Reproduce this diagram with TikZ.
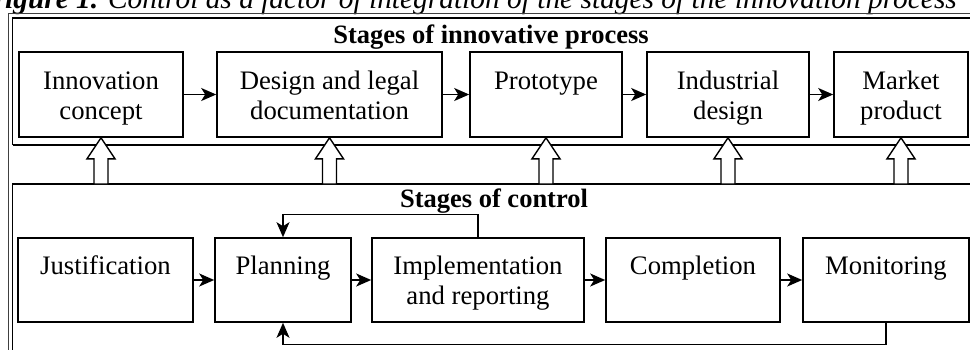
\documentclass[tikz,border=0pt]{standalone}
\usepackage{fontspec}
\setmainfont{Liberation Serif}
\usetikzlibrary{arrows.meta}
\newcommand\mytop{\rule{0pt}{28.6pt}}
\newcommand\mybot{\rule[-9pt]{0pt}{9pt}}
\begin{document}
\begin{tikzpicture}[x=1pt,y=-1pt,
  stagebox/.style={draw,line width=1.6pt,inner sep=0pt,align=center,font=\fontsize{26.7}{30}\selectfont},
  outerframe/.style={draw,line width=1pt,black!75},
  frame/.style={draw,line width=1.4pt},
  flow/.style={line width=1.6pt,-{Stealth[length=15pt,width=13pt,inset=4pt]}},
  fb/.style={line width=1.3pt,-{Stealth[length=15pt,width=13pt,inset=4pt]}},
  blockarr/.style={draw,fill=white,line width=1.4pt,line join=miter},
  heading/.style={font=\fontsize{26.5}{30}\selectfont\bfseries,anchor=base}
]
\useasboundingbox (0,0) rectangle (970,349);
\clip (0,0) rectangle (970,349);

% title (cut at the top, as in the reference)
\node[anchor=base east,inner sep=0pt,font=\fontsize{29.4}{32}\selectfont\itshape] (title) at (957,8)
  {\textbf{Figure 1.} Control as a factor of integration of the stages of the innovation process};

% frames
\draw[outerframe] (8,400) -- (8,13.3) -- (990,13.3);
\draw[frame] (12.7,145) -- (12.7,18) -- (990,18);
\draw[frame] (12.7,145) -- (990,145);
\draw[frame] (990,184) -- (12.7,184) -- (12.7,400);

% headings
\node[heading] (h1) at (491,43) {Stages of innovative process};
\node[heading] (h2) at (494,207) {Stages of control};

% stages of innovative process
\node[stagebox,minimum width=164pt,minimum height=85pt] (ic) at (101,94.5) {\mytop Innovation\\concept\mybot};
\node[stagebox,minimum width=225pt,minimum height=85pt] (dl) at (329.5,94.5) {\mytop Design and legal\\documentation\mybot};
\node[stagebox,minimum width=152pt,minimum height=85pt] (pr) at (546,94.5) {\mytop Prototype\\\mybot};
\node[stagebox,minimum width=162pt,minimum height=85pt] (id) at (728,94.5) {\mytop Industrial\\design\mybot};
\node[stagebox,minimum width=134pt,minimum height=85pt] (mp) at (901,94.5) {\mytop Market\\product\mybot};

\draw[flow] (ic) -- (dl);
\draw[flow] (dl) -- (pr);
\draw[flow] (pr) -- (id);
\draw[flow] (id) -- (mp);

% stages of control
\node[stagebox,minimum width=175pt,minimum height=84pt] (ju) at (105.5,280) {\mytop Justification\\\mybot};
\node[stagebox,minimum width=136pt,minimum height=84pt] (pl) at (283,280) {\mytop Planning\\\mybot};
\node[stagebox,minimum width=212pt,minimum height=84pt] (ir) at (478,280) {\mytop Implementation\\and reporting\mybot};
\node[stagebox,minimum width=174pt,minimum height=84pt] (co) at (693,280) {\mytop Completion\\\mybot};
\node[stagebox,minimum width=166pt,minimum height=84pt] (mo) at (886,280) {\mytop Monitoring\\\mybot};

\draw[flow] (ju) -- (pl);
\draw[flow] (pl) -- (ir);
\draw[flow] (ir) -- (co);
\draw[flow] (co) -- (mo);

\draw[fb] (ir.north) -- ++(0,-22.5) -| (pl.north);
\draw[fb] (mo.south) -- ++(0,21.5) -| (pl.south);

% hollow block arrows from control up to the innovation stages
\foreach \n in {ic,dl,pr,id,mp}{
  \draw[blockarr] (\n.south) -- ++(14,21) -- ++(-7,0) -- ++(0,25.2) -- ++(-14,0) -- ++(0,-25.2) -- ++(-7,0) -- cycle;
}
\end{tikzpicture}
\end{document}
